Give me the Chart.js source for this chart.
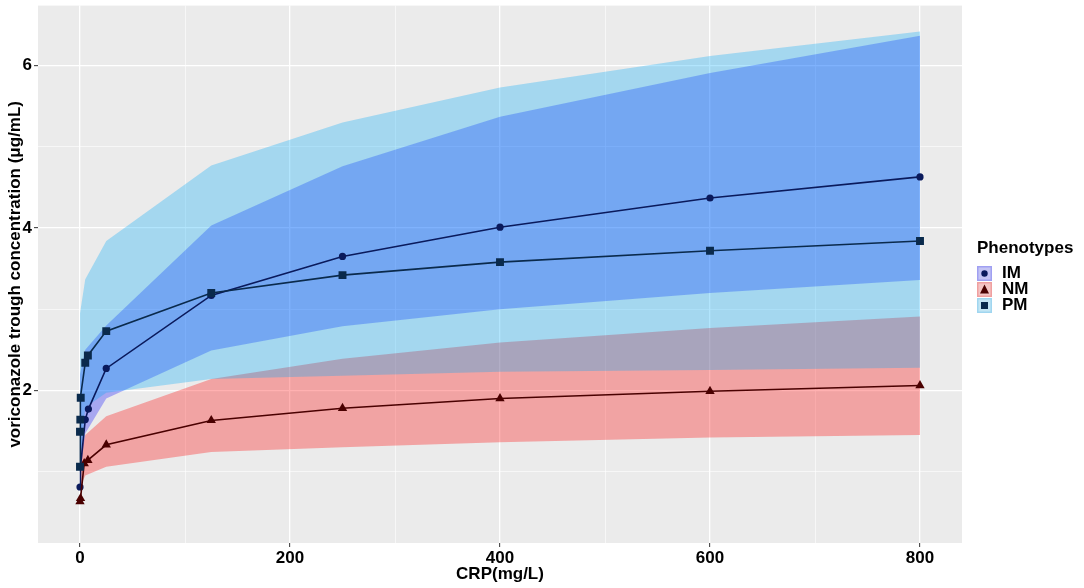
<!DOCTYPE html>
<html lang="en">
<head>
    <meta charset="UTF-8">
    <title>Voriconazole trough concentration vs CRP</title>
    <script src="https://cdn.jsdelivr.net/npm/chart.js"></script>
    <style>
        body {
            margin: 0;
            background: #ffffff;
            font-family: "Liberation Sans", Arial, sans-serif;
        }
        .wrap {
            position: relative;
            width: 1084px;
            height: 588px;
        }
        #legend {
            position: absolute;
            left: 977px;
            top: 238px;
            font-weight: bold;
            font-size: 17px;
            color: #000;
        }
        #legend .title {
            margin-bottom: 7px;
        }
        #legend .row {
            display: flex;
            align-items: center;
            height: 16px;
        }
        #legend svg {
            margin-right: 10px;
        }
    </style>
</head>
<body>
    <div class="wrap">
        <canvas id="chart"></canvas>
        <div id="legend">
            <div class="title">Phenotypes</div>
            <div class="row">
                <svg width="15" height="15"><rect x="0.75" y="0.75" width="13.5" height="13.5" fill="#c4c4f4" stroke="#a0a0f2" stroke-width="1.5"/><circle cx="7.5" cy="7.5" r="3.2" fill="#0a1a5c"/></svg>IM
            </div>
            <div class="row">
                <svg width="15" height="15"><rect x="0.75" y="0.75" width="13.5" height="13.5" fill="#f4c4c4" stroke="#f0a0a0" stroke-width="1.5"/><polygon points="7.5,2.5 12,11.5 3,11.5" fill="#4a0000"/></svg>NM
            </div>
            <div class="row">
                <svg width="15" height="15"><rect x="0.75" y="0.75" width="13.5" height="13.5" fill="#c4e6f4" stroke="#a0d6f0" stroke-width="1.5"/><rect x="4" y="4" width="7" height="7" fill="#0a2a4c"/></svg>PM
            </div>
        </div>
    </div>

    <script>
        // medians per phenotype
        const imCrp = [0, 0.5, 5, 8, 25, 125, 250, 400, 600, 800];
        const imConc = [0.81, 1.06, 1.64, 1.77, 2.27, 3.17, 3.65, 4.01, 4.37, 4.63];
        const nmCrp = [0, 0.5, 4, 7.5, 25, 125, 250, 400, 600, 800];
        const nmConc = [0.63, 0.67, 1.10, 1.14, 1.33, 1.63, 1.78, 1.90, 1.99, 2.06];
        const pmCrp = [0, 0, 0.3, 0.7, 5, 7.5, 25, 125, 250, 400, 600, 800];
        const pmConc = [1.06, 1.49, 1.64, 1.91, 2.34, 2.43, 2.73, 3.20, 3.42, 3.58, 3.72, 3.84];

        // ribbons (lower / upper bounds)
        const bandCrp = [0, 5, 25, 125, 250, 400, 600, 800];
        const imLow = [0.95, 1.47, 1.90, 2.49, 2.79, 3.00, 3.20, 3.36];
        const imHigh = [2.20, 2.50, 2.80, 4.03, 4.76, 5.37, 5.91, 6.37];
        const nmLow = [0.80, 0.95, 1.06, 1.24, 1.30, 1.36, 1.42, 1.45];
        const nmHigh = [1.20, 1.45, 1.68, 2.14, 2.39, 2.59, 2.77, 2.91];
        const pmLow = [1.05, 1.79, 1.97, 2.14, 2.18, 2.23, 2.25, 2.28];
        const pmHigh = [2.95, 3.37, 3.84, 4.77, 5.30, 5.73, 6.12, 6.42];

        const yTicks = [1, 2, 3, 4, 5, 6];
        const xTicks = [0, 100, 200, 300, 400, 500, 600, 700, 800];

        function pts(xs, ys) {
            return xs.map((x, i) => ({ x: x, y: ys[i] }));
        }

        function band(xs, lo, hi, fill, order) {
            return [
                { data: pts(xs, lo), borderColor: 'transparent', borderWidth: 0, pointRadius: 0, fill: false, order: order },
                { data: pts(xs, hi), borderColor: 'transparent', borderWidth: 0, pointRadius: 0, fill: '-1', backgroundColor: fill, order: order }
            ];
        }

        function series(xs, ys, color, style, radius, order) {
            return {
                data: pts(xs, ys),
                borderColor: color,
                backgroundColor: color,
                borderWidth: 1.6,
                pointStyle: style,
                pointRadius: radius,
                pointBorderWidth: 0,
                fill: false,
                order: order
            };
        }

        const panelBg = {
            id: 'panelBg',
            beforeDraw(chart) {
                const a = chart.chartArea;
                const ctx = chart.ctx;
                ctx.save();
                ctx.fillStyle = '#ebebeb';
                ctx.fillRect(a.left, a.top, a.right - a.left, a.bottom - a.top);
                ctx.restore();
            }
        };

        const font = { family: '"Liberation Sans", Arial, sans-serif', size: 17, weight: 'bold' };

        new Chart(document.getElementById('chart'), {
            type: 'line',
            data: {
                datasets: [
                    ...band(bandCrp, imLow, imHigh, 'rgba(0,0,255,0.285)', 30),
                    ...band(bandCrp, nmLow, nmHigh, 'rgba(255,0,0,0.306)', 20),
                    ...band(bandCrp, pmLow, pmHigh, 'rgba(0,170,250,0.3)', 10),
                    series(pmCrp, pmConc, '#0a2a4c', 'rect', 5.6, 1),
                    series(nmCrp, nmConc, '#4a0000', 'triangle', 5.4, 2),
                    series(imCrp, imConc, '#0a1a5c', 'circle', 3.6, 3)
                ]
            },
            options: {
                responsive: true,
                maintainAspectRatio: false,
                animation: false,
                layout: { padding: { left: 1, right: 122, top: 5, bottom: 0 } },
                elements: { line: { tension: 0 } },
                plugins: {
                    legend: { display: false },
                    tooltip: { enabled: false }
                },
                scales: {
                    x: {
                        type: 'linear',
                        min: -40,
                        max: 840,
                        afterBuildTicks: s => { s.ticks = xTicks.map(v => ({ value: v })); },
                        afterFit: s => { s.height = 45; s.paddingLeft = 0; s.paddingRight = 0; },
                        border: { display: false },
                        grid: {
                            color: '#ffffff',
                            lineWidth: c => (c.tick && c.tick.value % 200 === 0) ? 1.3 : 0.6,
                            tickColor: c => (c.tick && c.tick.value % 200 === 0) ? '#333333' : 'rgba(0,0,0,0)',
                            tickLength: 4,
                            tickWidth: 1
                        },
                        ticks: {
                            color: '#000',
                            font: font,
                            padding: 1,
                            maxRotation: 0,
                            callback: v => v % 200 === 0 ? String(v) : ''
                        },
                        title: { display: true, text: 'CRP(mg/L)', color: '#000', font: font, padding: { top: 0, bottom: 3 } }
                    },
                    y: {
                        type: 'linear',
                        min: 0.12,
                        max: 6.74,
                        afterBuildTicks: s => { s.ticks = yTicks.map(v => ({ value: v })); },
                        afterFit: s => { s.width = 37; s.paddingTop = 0; s.paddingBottom = 0; },
                        border: { display: false },
                        grid: {
                            color: '#ffffff',
                            lineWidth: c => (c.tick && c.tick.value % 2 === 0) ? 1.3 : 0.6,
                            tickColor: c => (c.tick && c.tick.value % 2 === 0) ? '#333333' : 'rgba(0,0,0,0)',
                            tickLength: 4,
                            tickWidth: 1
                        },
                        ticks: {
                            color: '#000',
                            font: font,
                            padding: 2,
                            callback: v => v % 2 === 0 ? String(v) : ''
                        },
                        title: { display: true, text: 'voriconazole trough concentration (\u03bcg/mL)', color: '#000', font: font, padding: { top: 4, bottom: 0 } }
                    }
                }
            },
            plugins: [panelBg]
        });
    </script>
</body>
</html>
